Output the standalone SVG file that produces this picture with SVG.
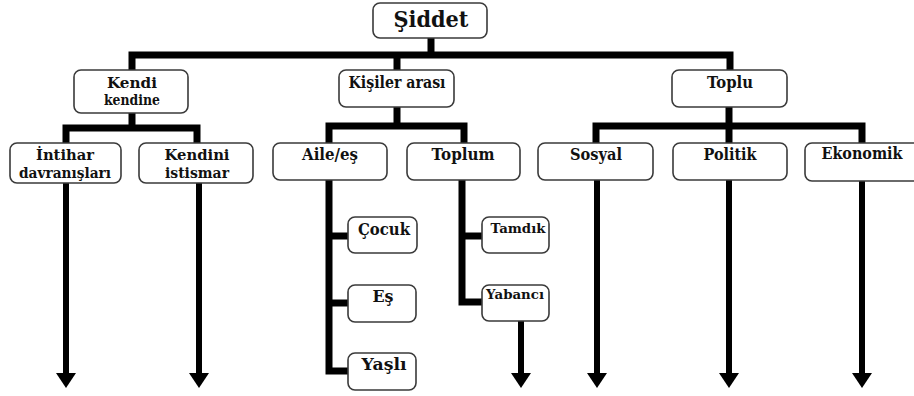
<svg xmlns="http://www.w3.org/2000/svg" width="914" height="396" viewBox="0 0 914 396">
  <defs>
    <marker id="head" markerUnits="userSpaceOnUse" markerWidth="22" markerHeight="22" viewBox="0 -11 16 22" refX="0" refY="0" orient="auto">
      <path d="M0,-10 L15,0 L0,10 Z" fill="#000"/>
    </marker>
    <style>
      .box { fill: #fff; stroke: #3a3a3a; stroke-width: 1.6; }
      .lbl { font-family: "DejaVu Serif", "Liberation Serif", serif; font-weight: bold; font-size: 16px; fill: #111; text-anchor: middle; }
      .big { font-size: 23px; }
      .two { font-size: 14px; }
      .small { font-size: 12px; }
      .wire { fill: none; stroke: #000; stroke-width: 7; stroke-linejoin: miter; stroke-linecap: butt; }
      .arrow { fill: none; stroke: #000; stroke-width: 6; marker-end: url(#head); }
    </style>
  </defs>

  <!-- connectors -->
  <g id="connectors">
    <path class="wire" d="M431,38 V55"/>
    <path class="wire" d="M132,70 V55 H730 V70"/>
    <path class="wire" d="M397,55 V70"/>

    <path class="wire" d="M132,113 V128"/>
    <path class="wire" d="M66,143 V128 H197 V143"/>

    <path class="wire" d="M397,107 V126"/>
    <path class="wire" d="M329,143 V126 H464 V143"/>

    <path class="wire" d="M729,107 V143"/>
    <path class="wire" d="M596,143 V126 H862 V143"/>

    <path class="wire" stroke-width="8" d="M329,180 V371 H349"/>
    <path class="wire" stroke-width="8" d="M329,236 H349"/>
    <path class="wire" stroke-width="8" d="M329,303 H349"/>

    <path class="wire" stroke-width="8" d="M462,180 V302 H483"/>
    <path class="wire" stroke-width="8" d="M462,236 H483"/>

    <path class="arrow" d="M66,183 V373"/>
    <path class="arrow" d="M199,183 V373"/>
    <path class="arrow" d="M521,321 V373"/>
    <path class="arrow" d="M597,180 V373"/>
    <path class="arrow" stroke-width="10" d="M729,180 V373"/>
    <path class="arrow" d="M862,181 V373"/>
  </g>

  <!-- nodes -->
  <g id="siddet">
    <rect class="box" x="373" y="3" width="114" height="35" rx="7"/>
    <text class="lbl big" x="431" y="27" textLength="75" lengthAdjust="spacingAndGlyphs">Şiddet</text>
  </g>

  <g id="kendi-kendine">
    <rect class="box" x="74" y="70" width="114" height="43" rx="7"/>
    <text class="lbl two" x="132" y="88" textLength="50" lengthAdjust="spacingAndGlyphs">Kendi</text>
    <text class="lbl two" x="132" y="105" textLength="56" lengthAdjust="spacingAndGlyphs">kendine</text>
  </g>

  <g id="kisiler-arasi">
    <rect class="box" x="339" y="70" width="115" height="37" rx="7"/>
    <text class="lbl" x="397" y="88" textLength="97" lengthAdjust="spacingAndGlyphs">Kişiler arası</text>
  </g>

  <g id="toplu">
    <rect class="box" x="672" y="70" width="115" height="37" rx="7"/>
    <text class="lbl" x="730" y="88" textLength="46" lengthAdjust="spacingAndGlyphs">Toplu</text>
  </g>

  <g id="intihar">
    <rect class="box" x="10" y="143" width="111" height="40" rx="7"/>
    <text class="lbl two" x="65" y="160" textLength="58" lengthAdjust="spacingAndGlyphs">İntihar</text>
    <text class="lbl two" x="65" y="178" textLength="92" lengthAdjust="spacingAndGlyphs">davranışları</text>
  </g>

  <g id="kendini-istismar">
    <rect class="box" x="139" y="143" width="114" height="40" rx="7"/>
    <text class="lbl two" x="197" y="160" textLength="65" lengthAdjust="spacingAndGlyphs">Kendini</text>
    <text class="lbl two" x="197" y="178" textLength="64" lengthAdjust="spacingAndGlyphs">istismar</text>
  </g>

  <g id="aile-es">
    <rect class="box" x="273" y="143" width="114" height="37" rx="7"/>
    <text class="lbl" x="330" y="160" textLength="56" lengthAdjust="spacingAndGlyphs">Aile/eş</text>
  </g>

  <g id="toplum">
    <rect class="box" x="407" y="143" width="113" height="37" rx="7"/>
    <text class="lbl" x="463" y="160" textLength="63" lengthAdjust="spacingAndGlyphs">Toplum</text>
  </g>

  <g id="sosyal">
    <rect class="box" x="538" y="143" width="115" height="37" rx="7"/>
    <text class="lbl" x="596" y="160" textLength="52" lengthAdjust="spacingAndGlyphs">Sosyal</text>
  </g>

  <g id="politik">
    <rect class="box" x="673" y="143" width="114" height="37" rx="7"/>
    <text class="lbl" x="730" y="160" textLength="53" lengthAdjust="spacingAndGlyphs">Politik</text>
  </g>

  <g id="ekonomik">
    <rect class="box" x="805" y="143" width="116" height="38" rx="7"/>
    <text class="lbl" x="862" y="159" textLength="81" lengthAdjust="spacingAndGlyphs">Ekonomik</text>
  </g>

  <g id="cocuk">
    <rect class="box" x="348" y="217" width="69" height="36" rx="7"/>
    <text class="lbl" x="384" y="235" textLength="52" lengthAdjust="spacingAndGlyphs">Çocuk</text>
  </g>

  <g id="es">
    <rect class="box" x="348" y="285" width="68" height="37" rx="7"/>
    <text class="lbl" x="383" y="302" textLength="21" lengthAdjust="spacingAndGlyphs">Eş</text>
  </g>

  <g id="yasli">
    <rect class="box" x="348" y="353" width="68" height="37" rx="7"/>
    <text class="lbl" x="384" y="370" textLength="45" lengthAdjust="spacingAndGlyphs">Yaşlı</text>
  </g>

  <g id="tanidik">
    <rect class="box" x="482" y="217" width="67" height="36" rx="7"/>
    <text class="lbl small" x="518" y="233" textLength="55" lengthAdjust="spacingAndGlyphs">Tamdık</text>
  </g>

  <g id="yabanci">
    <rect class="box" x="482" y="285" width="67" height="36" rx="7"/>
    <text class="lbl small" x="515" y="299" textLength="58" lengthAdjust="spacingAndGlyphs">Yabancı</text>
  </g>
</svg>
